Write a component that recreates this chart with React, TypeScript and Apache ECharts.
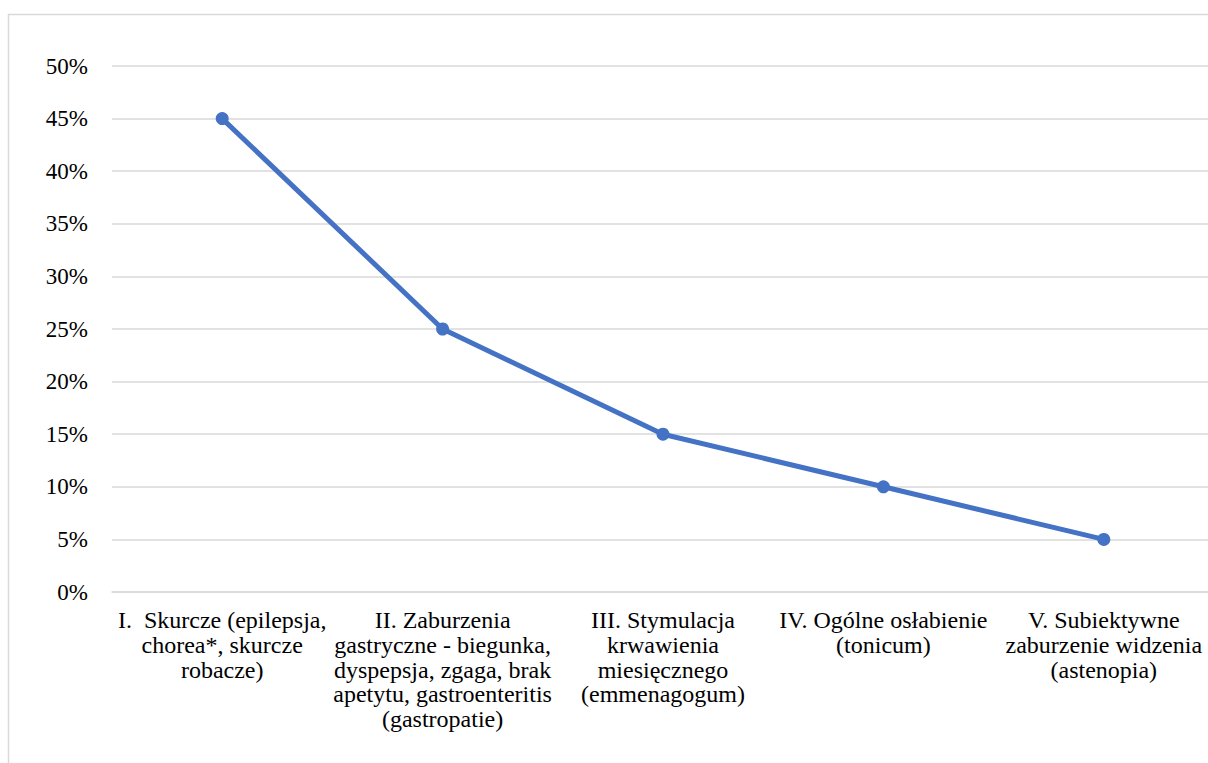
import React, { useEffect, useRef } from "react";
import * as echarts from "echarts";

const categories = [
  "I.  Skurcze (epilepsja,\nchorea*, skurcze\nrobacze)",
  "II. Zaburzenia\ngastryczne - biegunka,\ndyspepsja, zgaga, brak\napetytu, gastroenteritis\n(gastropatie)",
  "III. Stymulacja\nkrwawienia\nmiesięcznego\n(emmenagogum)",
  "IV. Ogólne osłabienie\n(tonicum)",
  "V. Subiektywne\nzaburzenie widzenia\n(astenopia)",
];
const values = [45, 25, 15, 10, 5];
const yMin = 0;
const yMax = 50;
const yStep = 5;

const FONT = "Liberation Serif";

export default function App() {
  const ref = useRef<HTMLDivElement>(null);
  useEffect(() => {
    if (!ref.current) return;
    const chart = echarts.init(ref.current, undefined, { renderer: "svg" });
    chart.setOption({
      animation: false,
      backgroundColor: "#ffffff",
      textStyle: { fontFamily: FONT },
      graphic: [
        {
          type: "rect",
          shape: { x: 8.5, y: 14.5, width: 1300, height: 800 },
          style: { fill: "none", stroke: "#d9d9d9", lineWidth: 1.5 },
          silent: true,
        },
      ],
      grid: {
        left: 112,
        top: 66,
        width: 1102,
        height: 526,
        containLabel: false,
        outerBoundsMode: "none",
      },
      xAxis: {
        type: "category",
        data: categories,
        boundaryGap: true,
        axisLine: { show: true, lineStyle: { color: "#d9d9d9", width: 1.5 } },
        axisTick: { show: false },
        axisLabel: {
          interval: 0,
          color: "#000",
          fontFamily: FONT,
          fontSize: 24,
          lineHeight: 24.7,
          margin: 16,
          align: "center",
          hideOverlap: false,
        },
      },
      yAxis: {
        type: "value",
        min: yMin,
        max: yMax,
        interval: yStep,
        axisLine: { show: false },
        axisTick: { show: false },
        splitLine: { lineStyle: { color: "#d9d9d9", width: 1.5 } },
        axisLabel: {
          formatter: "{value}%",
          color: "#000",
          fontFamily: FONT,
          fontSize: 23,
          margin: 24,
        },
      },
      series: [
        {
          type: "line",
          data: values,
          lineStyle: { color: "#4472C4", width: 5 },
          itemStyle: { color: "#4472C4" },
          symbol: "circle",
          symbolSize: 13,
        },
      ],
    });
    return () => chart.dispose();
  }, []);
  return (
    <div
      ref={ref}
      style={{ position: "absolute", left: 0, top: 0, width: 1208, height: 763 }}
    />
  );
}
